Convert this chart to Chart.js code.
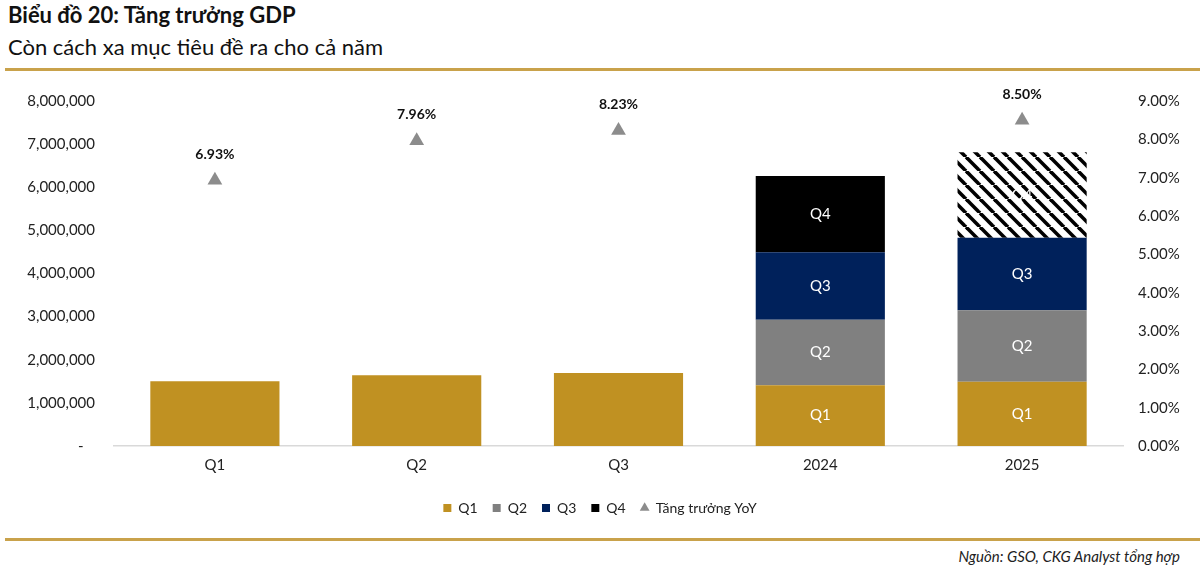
<!DOCTYPE html>
<html>
<head>
<meta charset="utf-8">
<script src="https://cdn.jsdelivr.net/npm/chart.js@4.4.1/dist/chart.umd.min.js"></script>
<style>
  html,body{margin:0;padding:0;background:#fff;}
  body{width:1200px;height:578px;position:relative;overflow:hidden;font-family:Lato,"Noto Sans",sans-serif;color:#111;}
  .title{position:absolute;left:8px;top:1px;font-weight:bold;font-size:22px;}
  .sub{position:absolute;left:8px;top:33px;font-size:22px;}
  .rule{position:absolute;left:5px;right:0;height:3px;background:#c9a24b;}
  .src{position:absolute;right:20px;top:547px;font-style:italic;font-size:15px;color:#222;}
  #wrap{position:absolute;left:0;top:73px;width:1200px;height:456px;}
</style>
</head>
<body>
<div class="title">Biểu đồ 20: Tăng trưởng GDP</div>
<div class="sub">Còn cách xa mục tiêu đề ra cho cả năm</div>
<div class="rule" style="top:68px"></div>
<div id="wrap"><canvas id="gdp"></canvas></div>
<div class="rule" style="top:538px"></div>
<div class="src">Nguồn: GSO, CKG Analyst tổng hợp</div>
<script>
const categories=['Q1','Q2','Q3','2024','2025'];
const q1Vals=[1500000,1640000,1690000,1410000,1490000];
const q2Vals=[null,null,null,1520000,1660000];
const q3Vals=[null,null,null,1560000,1680000];
const q4Vals=[null,null,null,1770000,1980000];
const yoyVals=[6.93,7.96,8.23,null,8.50];
const leftTicks=[0,1000000,2000000,3000000,4000000,5000000,6000000,7000000,8000000];
const segLabelCats=['2024','2025'];

const C={gold:'#c09122',gray:'#808080',navy:'#00215b',black:'#000',tri:'#8c8c8c'};

// hatched fill for the 2025 Q4 estimate
function hatch(){
  const s=14,c=document.createElement('canvas');c.width=s;c.height=s;
  const g=c.getContext('2d');
  g.fillStyle='#fff';g.fillRect(0,0,s,s);
  g.strokeStyle='#000';g.lineWidth=3.6;
  [-s,0,s].forEach(dx=>{g.beginPath();g.moveTo(dx,0);g.lineTo(dx+s,s);g.stroke();});
  return g.createPattern(c,'repeat');
}

const labelPlugin={id:'lbl',afterDatasetsDraw(chart){
  const ctx=chart.ctx;
  chart.data.datasets.forEach((ds,di)=>{
    const meta=chart.getDatasetMeta(di);
    meta.data.forEach((el,i)=>{
      const v=ds.data[i];
      if(v==null)return;
      ctx.save();ctx.textAlign='center';ctx.textBaseline='middle';
      if(ds.type==='line'){
        ctx.font='bold 14px Lato';ctx.fillStyle='#111';
        ctx.fillText(v.toFixed(2)+'%',el.x,el.y-26);
      }else if(segLabelCats.includes(categories[i])){
        ctx.font='15px Lato';ctx.fillStyle='#fff';
        ctx.fillText(ds.label,el.x,(el.y+el.base)/2);
      }
      ctx.restore();
    });
  });
}};

const bar=(label,data,color)=>({type:'bar',label,data,backgroundColor:color,borderWidth:0,
  pointStyle:'rect',stack:'s',order:2,barPercentage:0.64,categoryPercentage:1});

new Chart(document.getElementById('gdp'),{
  data:{labels:categories,datasets:[
    bar('Q1',q1Vals,C.gold),
    bar('Q2',q2Vals,C.gray),
    bar('Q3',q3Vals,C.navy),
    bar('Q4',q4Vals,[C.black,C.black,C.black,C.black,hatch()]),
    {type:'line',label:'Tăng trưởng YoY',data:yoyVals,yAxisID:'y1',showLine:false,order:0,
      pointStyle:'triangle',pointRadius:8.5,pointHoverRadius:8.5,
      backgroundColor:C.tri,borderColor:C.tri,pointBorderWidth:0}
  ]},
  options:{responsive:true,maintainAspectRatio:false,animation:false,
    layout:{padding:{top:6,bottom:4}},
    plugins:{tooltip:{enabled:false},
      legend:{position:'bottom',labels:{usePointStyle:true,boxWidth:8,boxHeight:8,padding:15,
        sort:(a,b)=>a.datasetIndex-b.datasetIndex,
        color:'#222',font:{family:'Lato',size:14}}}},
    scales:{
      x:{stacked:true,grid:{display:false},border:{color:'#d9d9d9',width:1.5},
        afterFit:a=>{a.height+=10;},
        ticks:{color:'#222',font:{family:'Lato',size:15},padding:2}},
      y:{stacked:true,min:0,max:8000000,afterFit:a=>{a.width=114;},
        afterBuildTicks:a=>{a.ticks=leftTicks.map(v=>({value:v}));},
        grid:{display:false,drawTicks:false},border:{display:false},
        ticks:{color:'#222',font:{family:'Lato',size:15},padding:19,
          callback:v=>v===0?'-   ':v.toLocaleString('en-US')}},
      y1:{position:'right',min:0,max:9,afterFit:a=>{a.width=77;},
        grid:{display:false,drawTicks:false},border:{display:false},
        ticks:{stepSize:1,color:'#222',font:{family:'Lato',size:15},padding:15,
          callback:v=>v.toFixed(2)+'%'}}
    }},
  plugins:[labelPlugin]
});
</script>
</body>
</html>
